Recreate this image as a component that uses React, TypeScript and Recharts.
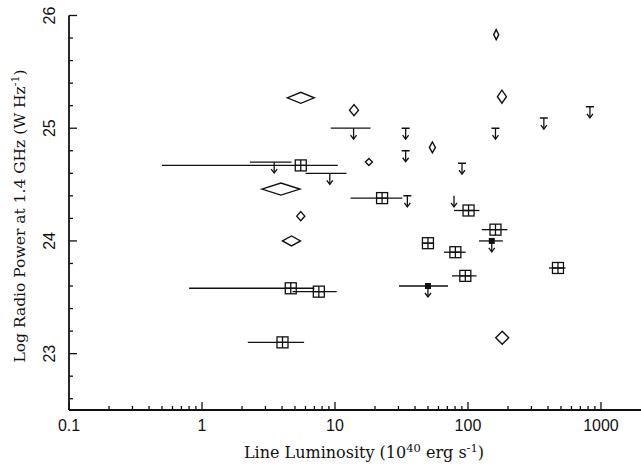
import React from "react";
import { ScatterChart, Scatter, XAxis, YAxis, ErrorBar } from "recharts";

// detections: boxed points with a luminosity range
const boxLum = [5.53, 4.65, 7.56, 4.03, 22.6, 101, 161, 50, 80.4, 95.5, 475];
const boxLumLo = [0.5, 0.8, 4.8, 2.21, 13.1, 78.5, 127, 45, 66, 75.8, 406];
const boxLumHi = [10.5, 7.0, 10.3, 5.86, 32.1, 122, 198, 55, 96.1, 116, 542];
const boxPow = [24.67, 23.58, 23.55, 23.1, 24.38, 24.27, 24.1, 23.98, 23.9, 23.69, 23.76];

// radio upper limits with a luminosity range
const rangeLimLum = [13.8, 3.49, 9.14];
const rangeLimLo = [9.3, 2.29, 6.0];
const rangeLimHi = [18.5, 4.71, 12.2];
const rangeLimPow = [25.0, 24.7, 24.6];

// filled points, upper limits
const fillLimLum = [151, 50];
const fillLimLo = [121, 30.3];
const fillLimHi = [183, 70.8];
const fillLimPow = [24.0, 23.6];

// capped upper limits
const capLimLum = [34, 34, 35, 90.2, 161, 372, 826];
const capLimPow = [25.0, 24.8, 24.4, 24.69, 25.0, 25.09, 25.19];

// bare arrow
const arrowLum = [78.5];
const arrowPow = [24.4];

// diamonds
const diaLum = [5.53, 3.92, 5.53, 4.71, 13.9, 18.0, 54.0, 163, 180, 181];
const diaPow = [25.27, 24.46, 24.22, 24.0, 25.16, 24.7, 24.83, 25.83, 25.28, 23.14];
const DIA_SIZE = [
  [27, 11], [38, 12], [8, 9], [18, 10], [9, 11],
  [7, 7], [6, 11], [5, 10], [9, 13], [13, 13],
];

const xDecades = [0.1, 1, 10, 100, 1000];
const yMajor = [23, 24, 25, 26];

const xTicks = xDecades
  .flatMap((d) => [1, 2, 3, 4, 5, 6, 7, 8, 9].map((k) => d * k))
  .filter((v) => v < 2000);
const yTicks = Array.from({ length: 18 }, (_, i) => (113 + i) / 5);

const withRange = (lum: number[], lo: number[], hi: number[], pow: number[]) =>
  lum.map((l, i) => ({ lum: l, pow: pow[i], errX: [l - lo[i], hi[i] - l] }));

const boxData = withRange(boxLum, boxLumLo, boxLumHi, boxPow);
const rangeLimData = withRange(rangeLimLum, rangeLimLo, rangeLimHi, rangeLimPow);
const fillLimData = withRange(fillLimLum, fillLimLo, fillLimHi, fillLimPow);
const capLimData = capLimLum.map((lum, i) => ({ lum, pow: capLimPow[i] }));
const arrowData = arrowLum.map((lum, i) => ({ lum, pow: arrowPow[i] }));
const diaData = diaLum.map((lum, i) => ({ lum, pow: diaPow[i], k: i }));

const ink = "#111";
const serif = "'DejaVu Serif', 'Liberation Serif', serif";
const sans = "'Liberation Sans', Arial, sans-serif";

const isMajorX = (v: number) => xDecades.some((d) => Math.abs(v - d) < 1e-9);
const fmtX = (v: number) => (v < 1 ? v.toFixed(1) : String(Math.round(v)));

const Arrow = ({ cx, cy, len = 11 }: { cx: number; cy: number; len?: number }) => (
  <g stroke={ink} strokeWidth={1.3} fill="none">
    <line x1={cx} x2={cx} y1={cy} y2={cy + len} />
    <polyline points={`${cx - 3},${cy + len - 4} ${cx},${cy + len} ${cx + 3},${cy + len - 4}`} />
  </g>
);

const BoxMark = ({ cx, cy }: any) => (
  <g stroke={ink} strokeWidth={1.3} fill="none">
    <rect x={cx - 5.5} y={cy - 5.5} width={11} height={11} />
    <line x1={cx} x2={cx} y1={cy - 5.5} y2={cy + 5.5} />
    <line x1={cx - 5.5} x2={cx + 5.5} y1={cy} y2={cy} />
  </g>
);

const RangeLimMark = ({ cx, cy }: any) => <Arrow cx={cx} cy={cy} />;

const FillLimMark = ({ cx, cy }: any) => (
  <g>
    <rect x={cx - 3} y={cy - 3} width={6} height={6} fill={ink} />
    <Arrow cx={cx} cy={cy} />
  </g>
);

const CapLimMark = ({ cx, cy }: any) => (
  <g>
    <line x1={cx - 4} x2={cx + 4} y1={cy} y2={cy} stroke={ink} strokeWidth={1.5} />
    <Arrow cx={cx} cy={cy} />
  </g>
);

const ArrowMark = ({ cx, cy }: any) => <Arrow cx={cx} cy={cy} />;

const DiamondMark = ({ cx, cy, payload }: any) => {
  const [w, h] = DIA_SIZE[payload.k];
  return (
    <polygon
      points={`${cx - w / 2},${cy} ${cx},${cy - h / 2} ${cx + w / 2},${cy} ${cx},${cy + h / 2}`}
      fill="none"
      stroke={ink}
      strokeWidth={1.4}
    />
  );
};

const BottomTick = ({ x, y, payload }: any) => {
  const major = isMajorX(payload.value);
  return (
    <g>
      <line x1={x} x2={x} y1={y} y2={y - (major ? 8 : 4)} stroke={ink} strokeWidth={1.3} />
      {major && (
        <text x={x} y={y + 21} textAnchor="middle" fontFamily={sans} fontSize={16} fill={ink}>
          {fmtX(payload.value)}
        </text>
      )}
    </g>
  );
};

const TopTick = ({ x, y, payload }: any) => (
  <line x1={x} x2={x} y1={y} y2={y + (isMajorX(payload.value) ? 8 : 4)} stroke={ink} strokeWidth={1.3} />
);

const LeftTick = ({ x, y, payload }: any) => {
  const major = yMajor.includes(payload.value);
  return (
    <g>
      <line x1={x} x2={x + (major ? 8 : 4)} y1={y} y2={y} stroke={ink} strokeWidth={1.3} />
      {major && (
        <text
          x={55}
          y={y}
          transform={`rotate(-90 55 ${y})`}
          textAnchor="middle"
          fontFamily={sans}
          fontSize={16}
          fill={ink}
        >
          {payload.value}
        </text>
      )}
    </g>
  );
};

const RightTick = ({ x, y, payload }: any) => (
  <line x1={x} x2={x - (yMajor.includes(payload.value) ? 8 : 4)} y1={y} y2={y} stroke={ink} strokeWidth={1.3} />
);

const XTitle = ({ viewBox }: any) => (
  <text x={viewBox.x + 295} y={458} textAnchor="middle" fontFamily={serif} fontSize={16} fill={ink}>
    Line Luminosity (10
    <tspan dy={-6} fontSize={11.5}>40</tspan>
    <tspan dy={6}> erg s</tspan>
    <tspan dy={-6} fontSize={11.5}>-1</tspan>
    <tspan dy={6}>)</tspan>
  </text>
);

const YTitle = () => (
  <text
    x={25}
    y={216}
    transform="rotate(-90 25 216)"
    textAnchor="middle"
    fontFamily={serif}
    fontSize={15.5}
    fill={ink}
  >
    Log Radio Power at 1.4 GHz (W Hz
    <tspan dy={-6} fontSize={11}>-1</tspan>
    <tspan dy={6}>)</tspan>
  </text>
);

const bar = <ErrorBar dataKey="errX" direction="x" width={0} stroke={ink} strokeWidth={1.3} />;

export default function App() {
  return (
    <div style={{ position: "absolute", left: 0, top: 0, background: "#fff" }}>
      <ScatterChart width={641} height={468} margin={{ top: 15.5, right: 0, bottom: 0, left: 0 }}>
        <XAxis
          xAxisId="b"
          dataKey="lum"
          type="number"
          scale="log"
          domain={[0.1, 2000]}
          allowDataOverflow
          ticks={xTicks}
          interval={0}
          tickSize={0}
          tickMargin={0}
          tick={<BottomTick />}
          height={58}
          axisLine={{ stroke: ink, strokeWidth: 1.8 }}
          label={{ content: <XTitle /> }}
        />
        <XAxis
          xAxisId="t"
          orientation="top"
          dataKey="lum"
          type="number"
          scale="log"
          domain={[0.1, 2000]}
          allowDataOverflow
          ticks={xTicks}
          interval={0}
          tickSize={0}
          tickMargin={0}
          tick={<TopTick />}
          height={0}
          axisLine={{ stroke: ink, strokeWidth: 1.8 }}
        />
        <YAxis
          yAxisId="l"
          dataKey="pow"
          type="number"
          domain={[22.5, 26]}
          allowDataOverflow
          ticks={yTicks}
          interval={0}
          tickSize={0}
          tickMargin={0}
          tick={<LeftTick />}
          width={69}
          axisLine={{ stroke: ink, strokeWidth: 1.8 }}
          label={{ content: <YTitle /> }}
        />
        <YAxis
          yAxisId="r"
          orientation="right"
          dataKey="pow"
          type="number"
          domain={[22.5, 26]}
          allowDataOverflow
          ticks={yTicks}
          interval={0}
          tickSize={0}
          tickMargin={0}
          tick={<RightTick />}
          width={0}
          axisLine={{ stroke: ink, strokeWidth: 1.8 }}
        />
        <Scatter xAxisId="b" yAxisId="l" data={boxData} shape={<BoxMark />} isAnimationActive={false}>
          {bar}
        </Scatter>
        <Scatter xAxisId="b" yAxisId="l" data={rangeLimData} shape={<RangeLimMark />} isAnimationActive={false}>
          {bar}
        </Scatter>
        <Scatter xAxisId="b" yAxisId="l" data={fillLimData} shape={<FillLimMark />} isAnimationActive={false}>
          {bar}
        </Scatter>
        <Scatter xAxisId="b" yAxisId="l" data={capLimData} shape={<CapLimMark />} isAnimationActive={false} />
        <Scatter xAxisId="b" yAxisId="l" data={arrowData} shape={<ArrowMark />} isAnimationActive={false} />
        <Scatter xAxisId="b" yAxisId="l" data={diaData} shape={<DiamondMark />} isAnimationActive={false} />
      </ScatterChart>
    </div>
  );
}
